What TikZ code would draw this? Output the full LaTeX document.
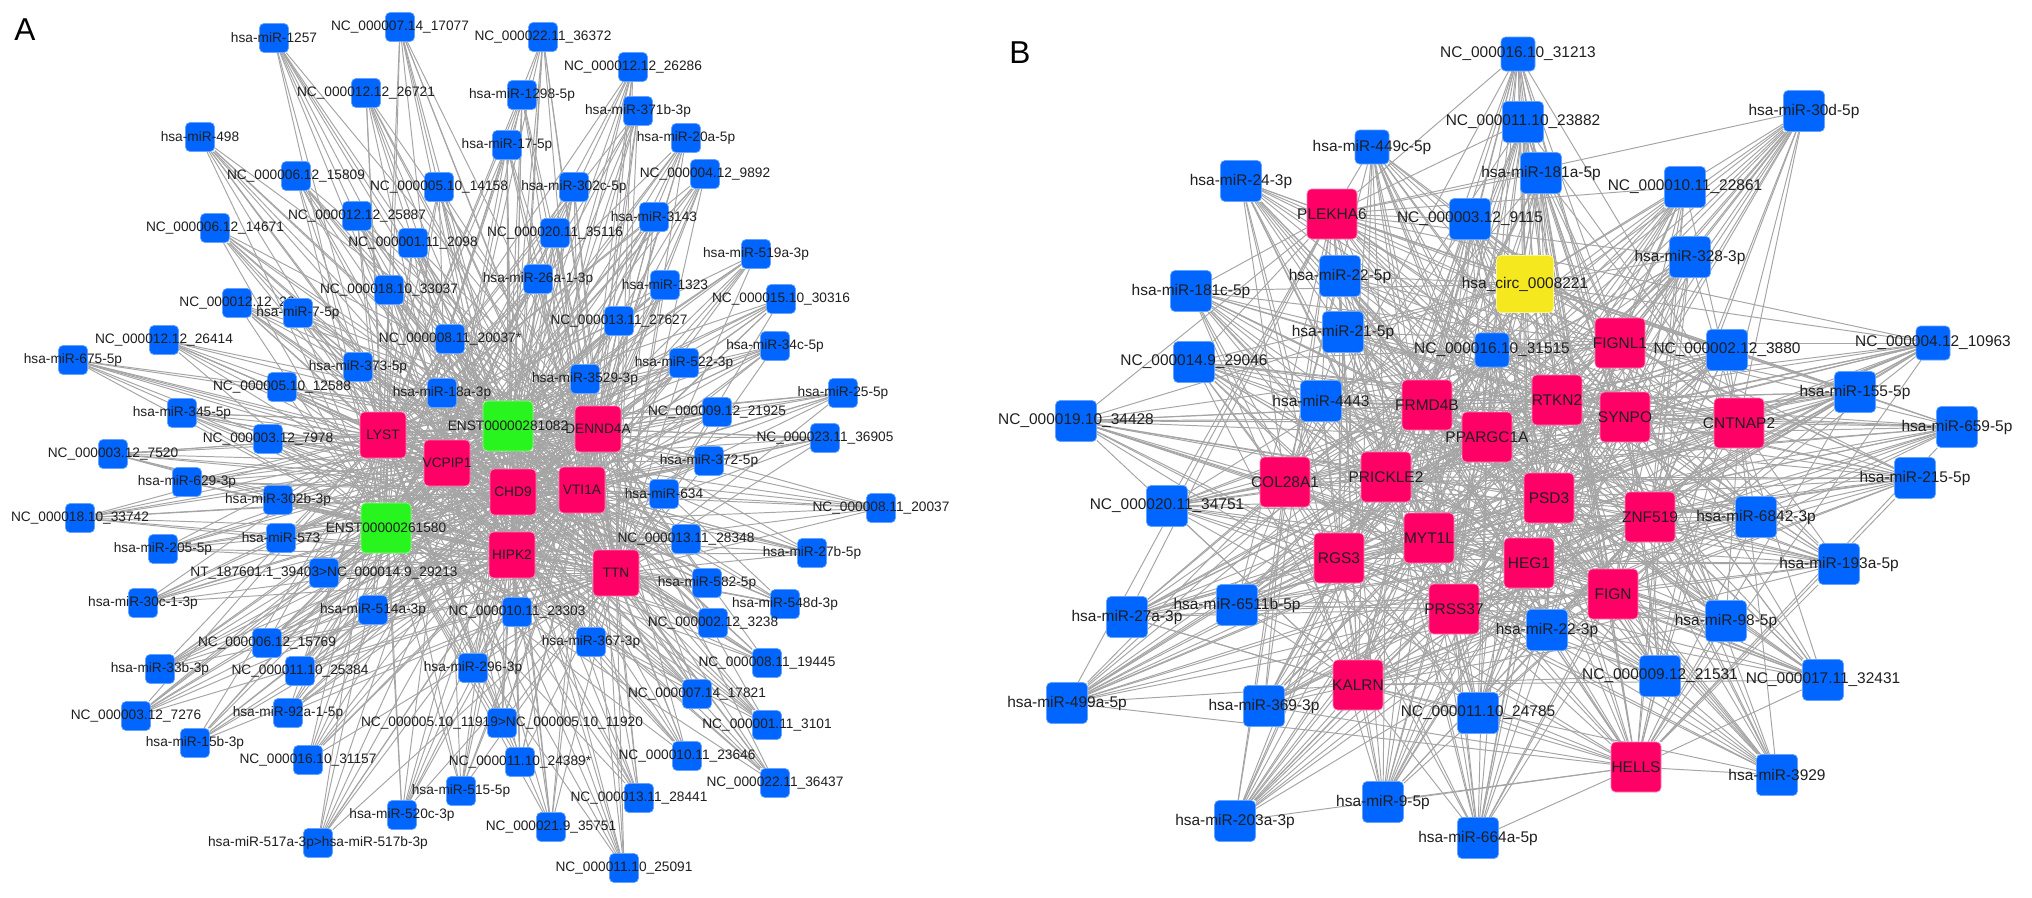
\documentclass[tikz,border=0pt]{standalone}
\usepackage{fontspec}
\setmainfont{Liberation Sans}
\usepackage{tikz}
\usetikzlibrary{backgrounds}

\definecolor{mirblue}{RGB}{0,102,255}
\definecolor{genepink}{RGB}{255,0,102}
\definecolor{lncgreen}{RGB}{40,245,30}
\definecolor{circyellow}{RGB}{245,232,30}
\definecolor{edgegray}{RGB}{165,165,165}

\begin{document}
\begin{tikzpicture}[
    x=0.2mm, y=-0.2mm,
    sq/.style={rectangle, rounded corners=0.9mm, inner sep=0pt, line width=0.4pt},
    la/.style={font=\fontsize{7.8}{9}\selectfont, text=black!88, inner sep=0pt},
    lb/.style={font=\fontsize{8.8}{10}\selectfont, text=black!88, inner sep=0pt},
    ba/.style={sq, fill=mirblue, draw=mirblue!60!white, minimum size=5.8mm, label={[la]center:#1}},
    pa/.style={sq, fill=genepink, draw=genepink!50!white, minimum size=9.2mm, label={[la]center:#1}},
    ga/.style={sq, fill=lncgreen, draw=lncgreen!50!white, minimum size=10mm, label={[la]center:#1}},
    bb/.style={sq, fill=mirblue, draw=mirblue!60!white, minimum size=8.2mm, label={[lb]center:#1}},
    sb/.style={bb=#1, minimum size=6.8mm},
    pb/.style={sq, fill=genepink, draw=genepink!50!white, minimum size=10mm, label={[lb]center:#1}},
    yb/.style={sq, fill=circyellow, draw=circyellow!50!white, minimum size=11.4mm, label={[lb]center:#1}},
    edge/.style={draw=edgegray, line width=0.55pt},
    panel/.style={font=\fontsize{18}{20}\selectfont},
]
\useasboundingbox (0,0) rectangle (2032,897);

% Panel letters
\node[panel] (pa) at (25,30) {A};
\node[panel] (pb) at (1020,53) {B};

% Panel A - outer miRNAs and NC transcripts
\node[ba={hsa-miR-1257}] (m1257) at (274,38) {};
\node[ba={NC\_000007.14\_17077}] (n17077) at (400,27) {};
\node[ba={NC\_000022.11\_36372}] (n36372) at (543,37) {};
\node[ba={NC\_000012.12\_26286}] (n26286) at (633,67) {};
\node[ba={NC\_000012.12\_26721}] (n26721) at (366,93) {};
\node[ba={hsa-miR-1298-5p}] (m1298) at (522,95) {};
\node[ba={hsa-miR-371b-3p}] (m371b) at (638,111) {};
\node[ba={hsa-miR-498}] (m498) at (200,137) {};
\node[ba={hsa-miR-20a-5p}] (m20a) at (686,138) {};
\node[ba={hsa-miR-17-5p}] (m17) at (507,145) {};
\node[ba={NC\_000004.12\_9892}] (n9892) at (705,174) {};
\node[ba={NC\_000006.12\_15809}] (n15809) at (296,176) {};
\node[ba={NC\_000005.10\_14158}] (n14158) at (439,187) {};
\node[ba={hsa-miR-302c-5p}] (m302c) at (574,187) {};
\node[ba={NC\_000012.12\_25887}] (n25887) at (357,216) {};
\node[ba={hsa-miR-3143}] (m3143) at (654,217) {};
\node[ba={NC\_000006.12\_14671}] (n14671) at (215,228) {};
\node[ba={NC\_000020.11\_35116}] (n35116) at (555,233) {};
\node[ba={NC\_000001.11\_2098}] (n2098) at (413,243) {};
\node[ba={hsa-miR-519a-3p}] (m519a) at (756,254) {};
\node[ba={hsa-miR-26a-1-3p}] (m26a) at (538,279) {};
\node[ba={hsa-miR-1323}] (m1323) at (665,285) {};
\node[ba={NC\_000018.10\_33037}] (n33037) at (389,290) {};
\node[ba={NC\_000015.10\_30316}] (n30316) at (781,299) {};
\node[ba={NC\_000012.12\_26}] (n26x) at (237,303) {};
\node[ba={hsa-miR-7-5p}] (m7) at (298,313) {};
\node[ba={NC\_000013.11\_27627}] (n27627) at (619,321) {};
\node[ba={NC\_000008.11\_20037*}] (n20037s) at (450,339) {};
\node[ba={NC\_000012.12\_26414}] (n26414) at (164,340) {};
\node[ba={hsa-miR-34c-5p}] (m34c) at (775,346) {};
\node[ba={hsa-miR-675-5p}] (m675) at (73,360) {};
\node[ba={hsa-miR-522-3p}] (m522) at (684,363) {};
\node[ba={hsa-miR-373-5p}] (m373) at (358,367) {};
\node[ba={hsa-miR-3529-3p}] (m3529) at (585,379) {};
\node[ba={NC\_000005.10\_12588}] (n12588) at (282,387) {};
\node[ba={hsa-miR-18a-3p}] (m18a) at (442,393) {};
\node[ba={hsa-miR-25-5p}] (m25) at (843,393) {};
\node[ba={NC\_000009.12\_21925}] (n21925) at (717,412) {};
\node[ba={hsa-miR-345-5p}] (m345) at (182,413) {};
\node[ba={NC\_000023.11\_36905}] (n36905) at (825,438) {};
\node[ba={NC\_000003.12\_7978}] (n7978) at (268,439) {};
\node[ba={NC\_000003.12\_7520}] (n7520) at (113,454) {};
\node[ba={hsa-miR-372-5p}] (m372) at (709,461) {};
\node[ba={hsa-miR-629-3p}] (m629) at (187,482) {};
\node[ba={hsa-miR-634}] (m634) at (664,494) {};
\node[ba={hsa-miR-302b-3p}] (m302b) at (278,500) {};
\node[ba={NC\_000008.11\_20037}] (n20037) at (881,508) {};
\node[ba={NC\_000018.10\_33742}] (n33742) at (80,518) {};
\node[ba={hsa-miR-573}] (m573) at (281,538) {};
\node[ba={NC\_000013.11\_28348}] (n28348) at (686,539) {};
\node[ba={hsa-miR-205-5p}] (m205) at (163,549) {};
\node[ba={hsa-miR-27b-5p}] (m27b) at (812,553) {};
\node[ba={NT\_187601.1\_39403>NC\_000014.9\_29213}] (nt39403) at (324,573) {};
\node[ba={hsa-miR-582-5p}] (m582) at (707,583) {};
\node[ba={hsa-miR-30c-1-3p}] (m30c) at (143,603) {};
\node[ba={hsa-miR-548d-3p}] (m548d) at (785,604) {};
\node[ba={hsa-miR-514a-3p}] (m514a) at (373,610) {};
\node[ba={NC\_000010.11\_23303}] (n23303) at (517,612) {};
\node[ba={NC\_000002.12\_3238}] (n3238) at (713,623) {};
\node[ba={hsa-miR-367-3p}] (m367) at (591,642) {};
\node[ba={NC\_000006.12\_15769}] (n15769) at (267,643) {};
\node[ba={NC\_000008.11\_19445}] (n19445) at (767,663) {};
\node[ba={hsa-miR-296-3p}] (m296) at (473,668) {};
\node[ba={hsa-miR-33b-3p}] (m33b) at (160,669) {};
\node[ba={NC\_000011.10\_25384}] (n25384) at (300,671) {};
\node[ba={NC\_000007.14\_17821}] (n17821) at (697,694) {};
\node[ba={hsa-miR-92a-1-5p}] (m92a) at (288,713) {};
\node[ba={NC\_000003.12\_7276}] (n7276) at (136,716) {};
\node[ba={NC\_000005.10\_11919>NC\_000005.10\_11920}] (n11920) at (502,723) {};
\node[ba={NC\_000001.11\_3101}] (n3101) at (767,725) {};
\node[ba={hsa-miR-15b-3p}] (m15b) at (195,743) {};
\node[ba={NC\_000010.11\_23646}] (n23646) at (687,756) {};
\node[ba={NC\_000016.10\_31157}] (n31157) at (308,760) {};
\node[ba={NC\_000011.10\_24389*}] (n24389) at (520,762) {};
\node[ba={NC\_000022.11\_36437}] (n36437) at (775,783) {};
\node[ba={hsa-miR-515-5p}] (m515) at (461,791) {};
\node[ba={NC\_000013.11\_28441}] (n28441) at (639,798) {};
\node[ba={hsa-miR-520c-3p}] (m520c) at (402,815) {};
\node[ba={NC\_000021.9\_35751}] (n35751) at (551,827) {};
\node[ba={hsa-miR-517a-3p>hsa-miR-517b-3p}] (m517) at (318,843) {};
\node[ba={NC\_000011.10\_25091}] (n25091) at (624,868) {};

% Panel A - genes and lncRNAs in the middle
\node[pa={LYST}] (lyst) at (383,435) {};
\node[pa={VCPIP1}] (vcpip1) at (447,463) {};
\node[ga={ENST00000261580}] (enst1580) at (386,528) {};
\node[pa={CHD9}] (chd9) at (513,492) {};
\node[pa={VTI1A}] (vti1a) at (582,490) {};
\node[pa={HIPK2}] (hipk2) at (512,555) {};
\node[pa={TTN}] (ttn) at (616,573) {};
\node[ga={ENST00000281082}] (enst1082) at (508,426) {};
\node[pa={DENND4A}] (denn) at (598,429) {};

% Panel B - outer miRNAs and NC transcripts
\node[sb={NC\_000016.10\_31213}] (bn31213) at (1518,54) {};
\node[bb={hsa-miR-30d-5p}] (bm30d) at (1804,111) {};
\node[bb={NC\_000011.10\_23882}] (bn23882) at (1523,122) {};
\node[sb={hsa-miR-449c-5p}] (bm449c) at (1372,147) {};
\node[bb={hsa-miR-181a-5p}] (bm181a) at (1541,173) {};
\node[bb={hsa-miR-24-3p}] (bm24) at (1241,181) {};
\node[bb={NC\_000010.11\_22861}] (bn22861) at (1685,187) {};
\node[bb={NC\_000003.12\_9115}] (bn9115) at (1470,219) {};
\node[bb={hsa-miR-328-3p}] (bm328) at (1690,257) {};
\node[bb={hsa-miR-22-5p}] (bm22f) at (1340,276) {};
\node[bb={hsa-miR-181c-5p}] (bm181c) at (1191,291) {};
\node[bb={hsa-miR-21-5p}] (bm21) at (1343,332) {};
\node[sb={NC\_000004.12\_10963}] (bn10963) at (1933,343) {};
\node[sb={NC\_000016.10\_31515}] (bn31515) at (1492,350) {};
\node[bb={NC\_000002.12\_3880}] (bn3880) at (1727,350) {};
\node[bb={NC\_000014.9\_29046}] (bn29046) at (1194,362) {};
\node[bb={hsa-miR-155-5p}] (bm155) at (1855,392) {};
\node[bb={hsa-miR-4443}] (bm4443) at (1321,401) {};
\node[bb={NC\_000019.10\_34428}] (bn34428) at (1076,421) {};
\node[bb={hsa-miR-659-5p}] (bm659) at (1957,427) {};
\node[bb={hsa-miR-215-5p}] (bm215) at (1915,478) {};
\node[bb={NC\_000020.11\_34751}] (bn34751) at (1167,506) {};
\node[bb={hsa-miR-6842-3p}] (bm6842) at (1756,517) {};
\node[bb={hsa-miR-193a-5p}] (bm193a) at (1839,564) {};
\node[bb={hsa-miR-6511b-5p}] (bm6511b) at (1237,605) {};
\node[bb={hsa-miR-27a-3p}] (bm27a) at (1127,617) {};
\node[bb={hsa-miR-98-5p}] (bm98) at (1726,621) {};
\node[bb={hsa-miR-22-3p}] (bm22t) at (1547,630) {};
\node[bb={NC\_000009.12\_21531}] (bn21531) at (1660,676) {};
\node[bb={NC\_000017.11\_32431}] (bn32431) at (1823,680) {};
\node[bb={hsa-miR-499a-5p}] (bm499a) at (1067,703) {};
\node[bb={hsa-miR-369-3p}] (bm369) at (1264,706) {};
\node[bb={NC\_000011.10\_24785}] (bn24785) at (1478,713) {};
\node[bb={hsa-miR-3929}] (bm3929) at (1777,775) {};
\node[bb={hsa-miR-9-5p}] (bm9) at (1383,802) {};
\node[bb={hsa-miR-203a-3p}] (bm203a) at (1235,821) {};
\node[bb={hsa-miR-664a-5p}] (bm664a) at (1478,838) {};

% Panel B - genes and the circRNA
\node[pb={PLEKHA6}] (plekha6) at (1332,214) {};
\node[yb={hsa\_circ\_0008221}] (circ) at (1525,284) {};
\node[pb={FIGNL1}] (fignl1) at (1620,343) {};
\node[pb={RTKN2}] (rtkn2) at (1557,400) {};
\node[pb={FRMD4B}] (frmd4b) at (1427,405) {};
\node[pb={SYNPO}] (synpo) at (1625,417) {};
\node[pb={CNTNAP2}] (cntnap2) at (1739,423) {};
\node[pb={PPARGC1A}] (ppargc1a) at (1487,437) {};
\node[pb={PRICKLE2}] (prickle2) at (1386,477) {};
\node[pb={COL28A1}] (col28a1) at (1285,482) {};
\node[pb={PSD3}] (psd3) at (1549,498) {};
\node[pb={ZNF519}] (znf519) at (1650,517) {};
\node[pb={MYT1L}] (myt1l) at (1429,538) {};
\node[pb={RGS3}] (rgs3) at (1339,558) {};
\node[pb={HEG1}] (heg1) at (1529,563) {};
\node[pb={FIGN}] (fign) at (1613,594) {};
\node[pb={PRSS37}] (prss37) at (1454,609) {};
\node[pb={KALRN}] (kalrn) at (1358,685) {};
\node[pb={HELLS}] (hells) at (1636,767) {};

% Edges behind everything
\begin{scope}[on background layer]
\fill[white] (0,0) rectangle (2032,897);
\foreach \s in {m1257, n17077, n36372, n26286, n26721, m1298, m371b, m498, m20a, m17,
    n9892, n15809, n14158, m302c, n25887, m3143, n14671, n35116, n2098, m519a, m26a,
    m1323, n33037, n30316, n26x, m7, n27627, n20037s, n26414, m34c, m675, m522, m373,
    m3529, n12588, m18a, m25, n21925, m345, n36905, n7978, n7520, m372, m629, m634,
    m302b, n20037, n33742, m573, n28348, m205, m27b, nt39403, m582, m30c, m548d, m514a,
    n23303, n3238, m367, n15769, n19445, m296, m33b, n25384, n17821, m92a, n7276, n11920,
    n3101, m15b, n23646, n31157, n24389, n36437, m515, n28441, m520c, n35751, m517, n25091} {
  \foreach \t in {lyst, vcpip1, enst1580, chd9, vti1a, hipk2, ttn, enst1082, denn}
    \draw[edge] (\s) -- (\t);
}
\foreach \s in {bn31213, bm30d, bn23882, bm449c, bm181a, bm24, bn22861, bn9115, bm328,
    bm22f, bm181c, bm21, bn10963, bn31515, bn3880, bn29046, bm155, bm4443, bn34428, bm659,
    bm215, bn34751, bm6842, bm193a, bm6511b, bm27a, bm98, bm22t, bn21531, bn32431, bm499a,
    bm369, bn24785, bm3929, bm9, bm203a, bm664a} {
  \foreach \t in {plekha6, circ, fignl1, rtkn2, frmd4b, synpo, cntnap2, ppargc1a, prickle2,
      col28a1, psd3, znf519, myt1l, rgs3, heg1, fign, prss37, kalrn, hells}
    \draw[edge] (\s) -- (\t);
}
\end{scope}

\end{tikzpicture}
\end{document}
